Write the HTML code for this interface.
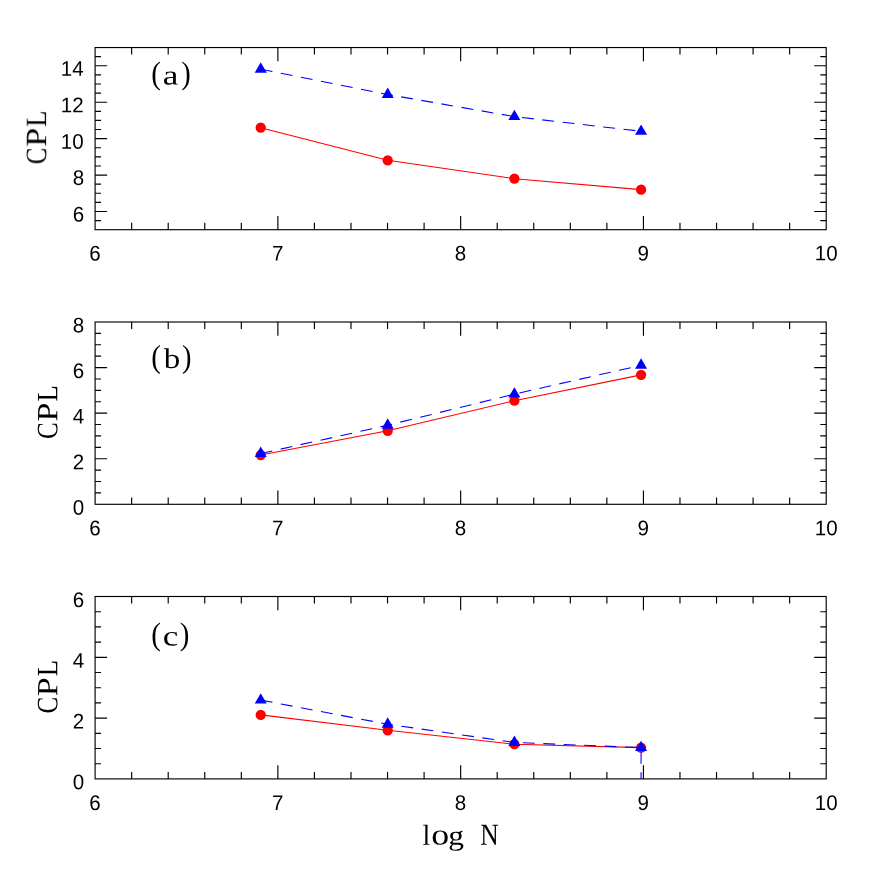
<!DOCTYPE html>
<html><head><meta charset="utf-8"><title>CPL vs log N</title>
<style>html,body{margin:0;padding:0;background:#fff}svg{display:block}text{font-family:"Liberation Sans",sans-serif;fill:#000;text-rendering:geometricPrecision}.s{font-family:"Liberation Serif",serif}</style></head>
<body>
<svg width="872" height="872" viewBox="0 0 872 872">
<defs><filter id="gray" x="0" y="0" width="872" height="872" filterUnits="userSpaceOnUse" color-interpolation-filters="sRGB"><feColorMatrix type="saturate" values="0"/></filter></defs>
<rect width="872" height="872" fill="#fff"/>
<g id="panel0">
<path d="M131.66 229.70v-6.90M131.66 47.55v6.90M168.21 229.70v-6.90M168.21 47.55v6.90M204.76 229.70v-6.90M204.76 47.55v6.90M241.32 229.70v-6.90M241.32 47.55v6.90M277.88 229.70v-13.70M277.88 47.55v13.70M314.43 229.70v-6.90M314.43 47.55v6.90M350.99 229.70v-6.90M350.99 47.55v6.90M387.54 229.70v-6.90M387.54 47.55v6.90M424.10 229.70v-6.90M424.10 47.55v6.90M460.65 229.70v-13.70M460.65 47.55v13.70M497.20 229.70v-6.90M497.20 47.55v6.90M533.76 229.70v-6.90M533.76 47.55v6.90M570.31 229.70v-6.90M570.31 47.55v6.90M606.87 229.70v-6.90M606.87 47.55v6.90M643.43 229.70v-13.70M643.43 47.55v13.70M679.98 229.70v-6.90M679.98 47.55v6.90M716.54 229.70v-6.90M716.54 47.55v6.90M753.09 229.70v-6.90M753.09 47.55v6.90M789.65 229.70v-6.90M789.65 47.55v6.90M95.10 220.59h5.90M826.20 220.59h-5.90M95.10 211.48h12.00M826.20 211.48h-12.00M95.10 202.38h5.90M826.20 202.38h-5.90M95.10 193.27h5.90M826.20 193.27h-5.90M95.10 184.16h5.90M826.20 184.16h-5.90M95.10 175.06h12.00M826.20 175.06h-12.00M95.10 165.95h5.90M826.20 165.95h-5.90M95.10 156.84h5.90M826.20 156.84h-5.90M95.10 147.73h5.90M826.20 147.73h-5.90M95.10 138.62h12.00M826.20 138.62h-12.00M95.10 129.52h5.90M826.20 129.52h-5.90M95.10 120.41h5.90M826.20 120.41h-5.90M95.10 111.30h5.90M826.20 111.30h-5.90M95.10 102.20h12.00M826.20 102.20h-12.00M95.10 93.09h5.90M826.20 93.09h-5.90M95.10 83.98h5.90M826.20 83.98h-5.90M95.10 74.87h5.90M826.20 74.87h-5.90M95.10 65.77h12.00M826.20 65.77h-12.00M95.10 56.66h5.90M826.20 56.66h-5.90" stroke="#000" stroke-width="1.15" fill="none"/>
<rect x="95.10" y="47.55" width="731.10" height="182.15" fill="none" stroke="#000" stroke-width="1.15"/>
<clipPath id="clip0"><rect x="95.10" y="47.55" width="731.10" height="182.15"/></clipPath>
<g clip-path="url(#clip0)">
<polyline points="260.73,127.70 387.70,160.30 514.39,178.70 641.08,189.63" fill="none" stroke="#f00" stroke-width="1.1"/>
<circle cx="260.73" cy="127.70" r="5.15" fill="#f00"/>
<circle cx="387.70" cy="160.30" r="5.15" fill="#f00"/>
<circle cx="514.39" cy="178.70" r="5.15" fill="#f00"/>
<circle cx="641.08" cy="189.63" r="5.15" fill="#f00"/>
<polyline points="260.73,69.23 387.70,94.54 514.39,116.58 641.08,131.34" fill="none" stroke="#00f" stroke-width="1.1" stroke-dasharray="11.9 8.54"/>
<path d="M260.73 62.30L266.73 72.69L254.73 72.69Z" fill="#00f"/>
<path d="M387.70 87.62L393.70 98.01L381.70 98.01Z" fill="#00f"/>
<path d="M514.39 109.66L520.39 120.05L508.39 120.05Z" fill="#00f"/>
<path d="M641.08 124.41L647.08 134.80L635.08 134.80Z" fill="#00f"/>
</g>
</g>
<g id="panel1">
<path d="M131.66 504.30v-6.90M131.66 322.00v6.90M168.21 504.30v-6.90M168.21 322.00v6.90M204.76 504.30v-6.90M204.76 322.00v6.90M241.32 504.30v-6.90M241.32 322.00v6.90M277.88 504.30v-13.70M277.88 322.00v13.70M314.43 504.30v-6.90M314.43 322.00v6.90M350.99 504.30v-6.90M350.99 322.00v6.90M387.54 504.30v-6.90M387.54 322.00v6.90M424.10 504.30v-6.90M424.10 322.00v6.90M460.65 504.30v-13.70M460.65 322.00v13.70M497.20 504.30v-6.90M497.20 322.00v6.90M533.76 504.30v-6.90M533.76 322.00v6.90M570.31 504.30v-6.90M570.31 322.00v6.90M606.87 504.30v-6.90M606.87 322.00v6.90M643.43 504.30v-13.70M643.43 322.00v13.70M679.98 504.30v-6.90M679.98 322.00v6.90M716.54 504.30v-6.90M716.54 322.00v6.90M753.09 504.30v-6.90M753.09 322.00v6.90M789.65 504.30v-6.90M789.65 322.00v6.90M95.10 492.91h5.90M826.20 492.91h-5.90M95.10 481.51h5.90M826.20 481.51h-5.90M95.10 470.12h5.90M826.20 470.12h-5.90M95.10 458.73h12.00M826.20 458.73h-12.00M95.10 447.33h5.90M826.20 447.33h-5.90M95.10 435.94h5.90M826.20 435.94h-5.90M95.10 424.54h5.90M826.20 424.54h-5.90M95.10 413.15h12.00M826.20 413.15h-12.00M95.10 401.76h5.90M826.20 401.76h-5.90M95.10 390.36h5.90M826.20 390.36h-5.90M95.10 378.97h5.90M826.20 378.97h-5.90M95.10 367.57h12.00M826.20 367.57h-12.00M95.10 356.18h5.90M826.20 356.18h-5.90M95.10 344.79h5.90M826.20 344.79h-5.90M95.10 333.39h5.90M826.20 333.39h-5.90" stroke="#000" stroke-width="1.15" fill="none"/>
<rect x="95.10" y="322.00" width="731.10" height="182.30" fill="none" stroke="#000" stroke-width="1.15"/>
<clipPath id="clip1"><rect x="95.10" y="322.00" width="731.10" height="182.30"/></clipPath>
<g clip-path="url(#clip1)">
<polyline points="260.73,455.08 387.70,430.81 514.39,400.71 641.08,374.87" fill="none" stroke="#f00" stroke-width="1.1"/>
<circle cx="260.73" cy="455.08" r="5.15" fill="#f00"/>
<circle cx="387.70" cy="430.81" r="5.15" fill="#f00"/>
<circle cx="514.39" cy="400.71" r="5.15" fill="#f00"/>
<circle cx="641.08" cy="374.87" r="5.15" fill="#f00"/>
<polyline points="260.73,453.55 387.70,425.25 514.39,394.12 641.08,365.30" fill="none" stroke="#00f" stroke-width="1.1" stroke-dasharray="11.9 8.54"/>
<path d="M260.73 446.62L266.73 457.02L254.73 457.02Z" fill="#00f"/>
<path d="M387.70 418.32L393.70 428.71L381.70 428.71Z" fill="#00f"/>
<path d="M514.39 387.19L520.39 397.59L508.39 397.59Z" fill="#00f"/>
<path d="M641.08 358.37L647.08 368.76L635.08 368.76Z" fill="#00f"/>
</g>
</g>
<g id="panel2">
<path d="M131.66 778.90v-6.90M131.66 596.50v6.90M168.21 778.90v-6.90M168.21 596.50v6.90M204.76 778.90v-6.90M204.76 596.50v6.90M241.32 778.90v-6.90M241.32 596.50v6.90M277.88 778.90v-13.70M277.88 596.50v13.70M314.43 778.90v-6.90M314.43 596.50v6.90M350.99 778.90v-6.90M350.99 596.50v6.90M387.54 778.90v-6.90M387.54 596.50v6.90M424.10 778.90v-6.90M424.10 596.50v6.90M460.65 778.90v-13.70M460.65 596.50v13.70M497.20 778.90v-6.90M497.20 596.50v6.90M533.76 778.90v-6.90M533.76 596.50v6.90M570.31 778.90v-6.90M570.31 596.50v6.90M606.87 778.90v-6.90M606.87 596.50v6.90M643.43 778.90v-13.70M643.43 596.50v13.70M679.98 778.90v-6.90M679.98 596.50v6.90M716.54 778.90v-6.90M716.54 596.50v6.90M753.09 778.90v-6.90M753.09 596.50v6.90M789.65 778.90v-6.90M789.65 596.50v6.90M95.10 763.70h5.90M826.20 763.70h-5.90M95.10 748.50h5.90M826.20 748.50h-5.90M95.10 733.30h5.90M826.20 733.30h-5.90M95.10 718.10h12.00M826.20 718.10h-12.00M95.10 702.90h5.90M826.20 702.90h-5.90M95.10 687.70h5.90M826.20 687.70h-5.90M95.10 672.50h5.90M826.20 672.50h-5.90M95.10 657.30h12.00M826.20 657.30h-12.00M95.10 642.10h5.90M826.20 642.10h-5.90M95.10 626.90h5.90M826.20 626.90h-5.90M95.10 611.70h5.90M826.20 611.70h-5.90" stroke="#000" stroke-width="1.15" fill="none"/>
<rect x="95.10" y="596.50" width="731.10" height="182.40" fill="none" stroke="#000" stroke-width="1.15"/>
<clipPath id="clip2"><rect x="95.10" y="596.50" width="731.10" height="182.40"/></clipPath>
<g clip-path="url(#clip2)">
<polyline points="260.73,714.91 387.70,730.29 514.39,744.21 641.08,747.59" fill="none" stroke="#f00" stroke-width="1.1"/>
<circle cx="260.73" cy="714.91" r="5.15" fill="#f00"/>
<circle cx="387.70" cy="730.29" r="5.15" fill="#f00"/>
<circle cx="514.39" cy="744.21" r="5.15" fill="#f00"/>
<circle cx="641.08" cy="747.59" r="5.15" fill="#f00"/>
<polyline points="260.73,700.10 387.70,724.24 514.39,742.45 641.08,747.59 641.08,798.90" fill="none" stroke="#00f" stroke-width="1.1" stroke-dasharray="11.9 8.54"/>
<path d="M260.73 693.17L266.73 703.57L254.73 703.57Z" fill="#00f"/>
<path d="M387.70 717.31L393.70 727.70L381.70 727.70Z" fill="#00f"/>
<path d="M514.39 735.52L520.39 745.91L508.39 745.91Z" fill="#00f"/>
<path d="M641.08 740.66L647.08 751.05L635.08 751.05Z" fill="#00f"/>
</g>
</g>
<g id="text" filter="url(#gray)">
<text transform="translate(84.10 221.58) rotate(0.2) scale(1 1.035)" font-size="20.5" text-anchor="end">6</text>
<text transform="translate(84.10 185.16) rotate(0.2) scale(1 1.035)" font-size="20.5" text-anchor="end">8</text>
<text transform="translate(83.60 148.72) rotate(0.2) scale(1 1.035)" font-size="20.5" text-anchor="end">10</text>
<text transform="translate(83.60 112.30) rotate(0.2) scale(1 1.035)" font-size="20.5" text-anchor="end">12</text>
<text transform="translate(83.60 75.87) rotate(0.2) scale(1 1.035)" font-size="20.5" text-anchor="end">14</text>
<text transform="translate(94.90 260.40) rotate(0.2) scale(1 1.035)" font-size="20.5" text-anchor="middle">6</text>
<text transform="translate(277.68 260.40) rotate(0.2) scale(1 1.035)" font-size="20.5" text-anchor="middle">7</text>
<text transform="translate(460.45 260.40) rotate(0.2) scale(1 1.035)" font-size="20.5" text-anchor="middle">8</text>
<text transform="translate(643.23 260.40) rotate(0.2) scale(1 1.035)" font-size="20.5" text-anchor="middle">9</text>
<text transform="translate(826.20 260.40) rotate(0.2) scale(1 1.035)" font-size="20.5" text-anchor="middle">10</text>
<text transform="translate(84.10 514.75) rotate(0.2) scale(1 1.035)" font-size="20.5" text-anchor="end">0</text>
<text transform="translate(84.10 469.18) rotate(0.2) scale(1 1.035)" font-size="20.5" text-anchor="end">2</text>
<text transform="translate(84.10 423.60) rotate(0.2) scale(1 1.035)" font-size="20.5" text-anchor="end">4</text>
<text transform="translate(84.10 378.03) rotate(0.2) scale(1 1.035)" font-size="20.5" text-anchor="end">6</text>
<text transform="translate(84.10 332.45) rotate(0.2) scale(1 1.035)" font-size="20.5" text-anchor="end">8</text>
<text transform="translate(94.90 535.35) rotate(0.2) scale(1 1.035)" font-size="20.5" text-anchor="middle">6</text>
<text transform="translate(277.68 535.35) rotate(0.2) scale(1 1.035)" font-size="20.5" text-anchor="middle">7</text>
<text transform="translate(460.45 535.35) rotate(0.2) scale(1 1.035)" font-size="20.5" text-anchor="middle">8</text>
<text transform="translate(643.23 535.35) rotate(0.2) scale(1 1.035)" font-size="20.5" text-anchor="middle">9</text>
<text transform="translate(826.20 535.35) rotate(0.2) scale(1 1.035)" font-size="20.5" text-anchor="middle">10</text>
<text transform="translate(84.10 789.35) rotate(0.2) scale(1 1.035)" font-size="20.5" text-anchor="end">0</text>
<text transform="translate(84.10 728.55) rotate(0.2) scale(1 1.035)" font-size="20.5" text-anchor="end">2</text>
<text transform="translate(84.10 667.75) rotate(0.2) scale(1 1.035)" font-size="20.5" text-anchor="end">4</text>
<text transform="translate(84.10 606.95) rotate(0.2) scale(1 1.035)" font-size="20.5" text-anchor="end">6</text>
<text transform="translate(94.90 809.95) rotate(0.2) scale(1 1.035)" font-size="20.5" text-anchor="middle">6</text>
<text transform="translate(277.68 809.95) rotate(0.2) scale(1 1.035)" font-size="20.5" text-anchor="middle">7</text>
<text transform="translate(460.45 809.95) rotate(0.2) scale(1 1.035)" font-size="20.5" text-anchor="middle">8</text>
<text transform="translate(643.23 809.95) rotate(0.2) scale(1 1.035)" font-size="20.5" text-anchor="middle">9</text>
<text transform="translate(826.20 809.95) rotate(0.2) scale(1 1.035)" font-size="20.5" text-anchor="middle">10</text>
<text class="s" font-size="100" transform="translate(151.294 83.857) rotate(0.2) scale(0.29020 0.32111)">(</text><text class="s" font-size="100" transform="translate(162.768 84.522) rotate(0.2) scale(0.35190 0.27789)">a</text><text class="s" font-size="100" transform="translate(181.146 83.857) rotate(0.2) scale(0.28462 0.32111)">)</text>
<text class="s" font-size="100" transform="translate(151.294 367.257) rotate(0.2) scale(0.29020 0.32111)">(</text><text class="s" font-size="100" transform="translate(163.750 367.916) rotate(0.2) scale(0.32935 0.28429)">b</text><text class="s" font-size="100" transform="translate(181.946 367.257) rotate(0.2) scale(0.28462 0.32111)">)</text>
<text class="s" font-size="100" transform="translate(151.294 644.857) rotate(0.2) scale(0.29020 0.32111)">(</text><text class="s" font-size="100" transform="translate(162.703 645.512) rotate(0.2) scale(0.34933 0.28750)">c</text><text class="s" font-size="100" transform="translate(179.835 644.857) rotate(0.2) scale(0.28846 0.32111)">)</text>
<text class="s" font-size="100" transform="translate(422.491 844.700) rotate(0.2) scale(0.27958 0.28841)">l</text><text class="s" font-size="100" transform="translate(431.317 844.600) rotate(0.2) scale(0.35833 0.30000)">o</text><text class="s" font-size="100" transform="translate(448.183 844.778) rotate(0.2) scale(0.31494 0.27724)">g</text><text class="s" font-size="100" transform="translate(480.287 844.700) rotate(0.2) scale(0.25448 0.30615)">N</text>
<g transform="translate(46.10 163.30) rotate(-90)"><text class="s" font-size="100" transform="translate(-0.996 0.004) rotate(0.2) scale(0.24912 0.29552)">C</text><text class="s" font-size="100" transform="translate(16.379 0.000) rotate(0.2) scale(0.34021 0.29313)">P</text><text class="s" font-size="100" transform="translate(36.404 0.000) rotate(0.2) scale(0.26538 0.29538)">L</text></g>
<g transform="translate(57.30 437.95) rotate(-90)"><text class="s" font-size="100" transform="translate(-0.996 0.004) rotate(0.2) scale(0.24912 0.29552)">C</text><text class="s" font-size="100" transform="translate(16.379 0.000) rotate(0.2) scale(0.34021 0.29313)">P</text><text class="s" font-size="100" transform="translate(36.404 0.000) rotate(0.2) scale(0.26538 0.29538)">L</text></g>
<g transform="translate(57.30 712.60) rotate(-90)"><text class="s" font-size="100" transform="translate(-0.996 0.004) rotate(0.2) scale(0.24912 0.29552)">C</text><text class="s" font-size="100" transform="translate(16.379 0.000) rotate(0.2) scale(0.34021 0.29313)">P</text><text class="s" font-size="100" transform="translate(36.404 0.000) rotate(0.2) scale(0.26538 0.29538)">L</text></g>
</g>
</svg>
</body></html>
